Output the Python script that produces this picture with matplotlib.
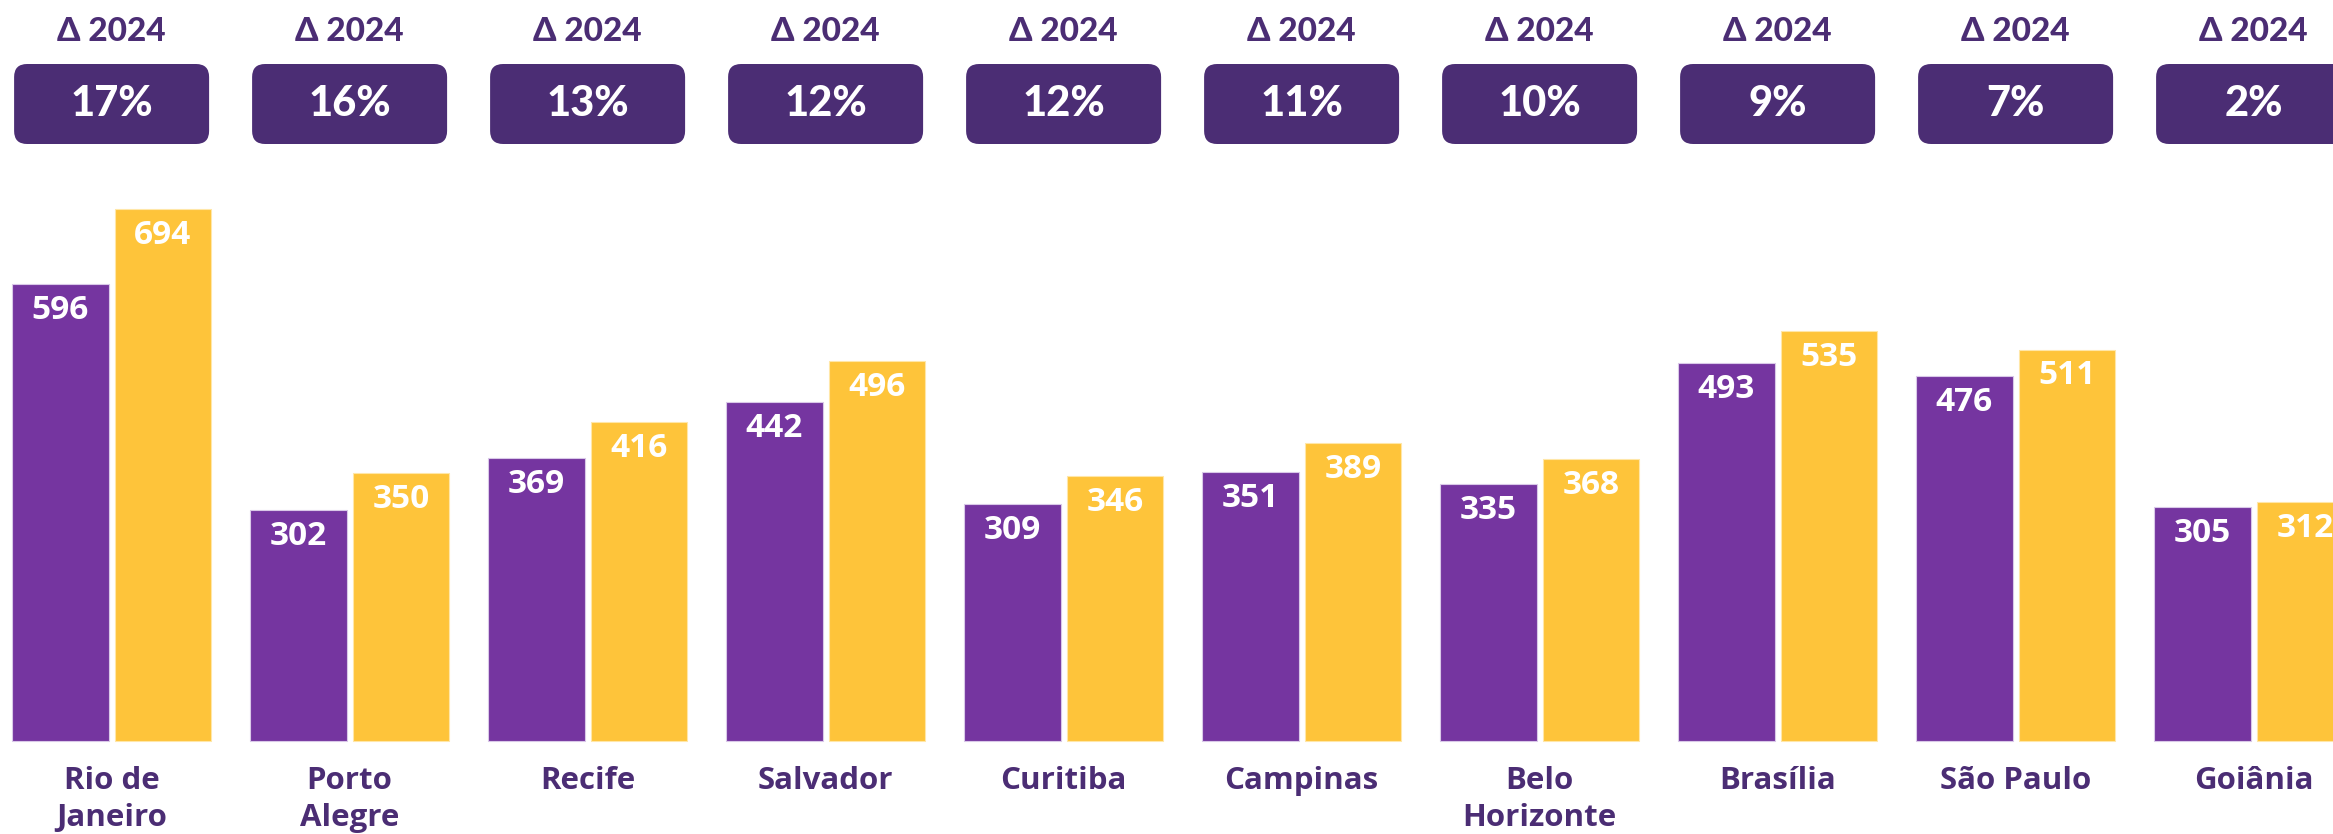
import matplotlib
matplotlib.use('Agg')
import matplotlib.pyplot as plt
from matplotlib.patches import FancyBboxPatch
import numpy as np

# ---- data ----
cities = ["Rio de\nJaneiro", "Porto\nAlegre", "Recife", "Salvador", "Curitiba",
          "Campinas", "Belo\nHorizonte", "Brasília", "São Paulo", "Goiânia"]
values_prev = [596, 302, 369, 442, 309, 351, 335, 493, 476, 305]
values_2024 = [694, 350, 416, 496, 346, 389, 368, 535, 511, 312]
delta_labels = ["17%", "16%", "13%", "12%", "12%", "11%", "10%", "9%", "7%", "2%"]
delta_title = "Δ 2024"

# ---- style ----
PURPLE = "#7535A0"
YELLOW = "#FEC43A"
DARK = "#4B2D74"

W, H = 2333, 834
fig = plt.figure(figsize=(W / 100, H / 100), dpi=100)
fig.patch.set_facecolor("white")
ax = fig.add_axes([0, 0, 1, 1])
ax.set_facecolor("none")

px_per_unit = 0.766
base_px = 741
group_px = 238
x0_px = 111.6
ax.set_ylim(-(H - base_px) / px_per_unit, base_px / px_per_unit)
ax.set_xlim(-x0_px / group_px, (W - x0_px) / group_px)
ax.axis("off")

x = np.arange(len(cities))
bw = 0.406
off = 0.2155
ax.bar(x - off, values_prev, bw, color=PURPLE, edgecolor="#D9C8E8", linewidth=0.8)
ax.bar(x + off, values_2024, bw, color=YELLOW, edgecolor="#FFE7A8", linewidth=0.8)

val_font = dict(family=["Open Sans", "DejaVu Sans"], weight="bold", size=24, color="white")
for xi, v in zip(x - off, values_prev):
    ax.annotate(str(v), (xi, v), xytext=(0, -19), textcoords="offset points",
                ha="center", va="center", **val_font)
for xi, v in zip(x + off, values_2024):
    ax.annotate(str(v), (xi, v), xytext=(0, -19), textcoords="offset points",
                ha="center", va="center", **val_font)

lab_font = dict(family=["Open Sans", "DejaVu Sans"], weight="bold", size=22.5, color=DARK)
for xi, c in zip(x, cities):
    ax.annotate(c, (xi, 0), xytext=(0, -18), textcoords="offset points",
                ha="center", va="top", linespacing=1.3, **lab_font)

# ---- header boxes (overlay in pixel coordinates) ----
ov = fig.add_axes([0, 0, 1, 1])
ov.set_xlim(0, W)
ov.set_ylim(H, 0)
ov.axis("off")
ov.set_facecolor("none")

fig.canvas.draw()
box_w, box_h = 195, 80
box_top = 64
for xi, lab in zip(x, delta_labels):
    cx = ax.transData.transform((xi, 0))[0]
    p = FancyBboxPatch((cx - box_w / 2, box_top), box_w, box_h,
                       boxstyle="round,pad=0,rounding_size=13",
                       facecolor=DARK, edgecolor="none")
    ov.add_patch(p)
    ov.text(cx, box_top + box_h / 2, lab, ha="center", va="center",
            family=["Lato", "DejaVu Sans"], weight="black", size=30, color="white")
    ov.text(cx, 31, delta_title, ha="center", va="center",
            family=["Lato", "DejaVu Sans"], weight="black", size=24, color=DARK)

fig.savefig("out.png", dpi=100)
